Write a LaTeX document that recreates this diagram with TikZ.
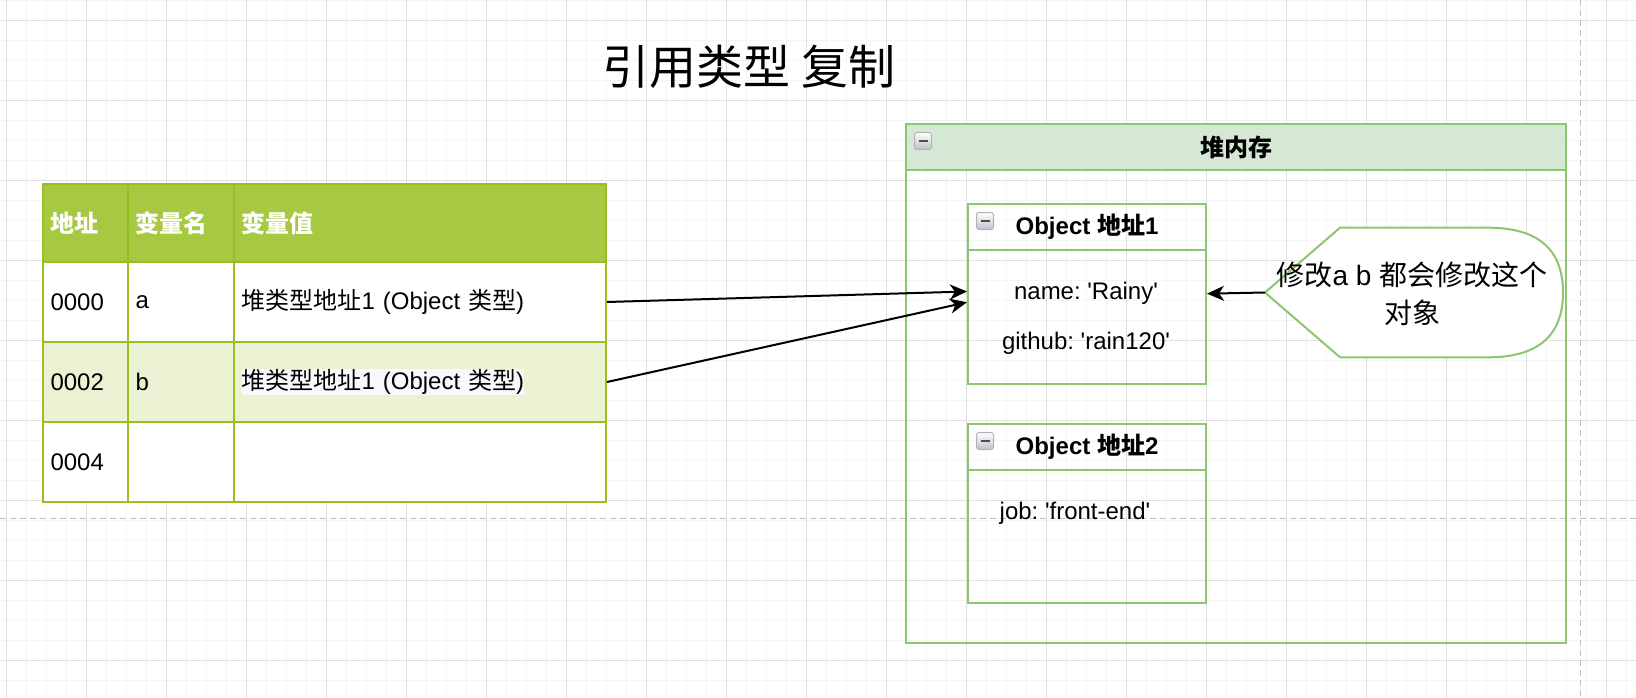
\documentclass[tikz,border=0pt]{standalone}
\usepackage{fontspec}
\setmainfont{Liberation Sans}
\newfontfamily\cjk{Noto Sans CJK SC}
\usetikzlibrary{arrows.meta}
\frenchspacing

\definecolor{gridmajor}{RGB}{224,224,224}
\definecolor{gridminor}{RGB}{245,245,245}
\definecolor{pagebreak}{RGB}{192,192,192}
\definecolor{tblhead}{RGB}{167,201,66}
\definecolor{tblline}{RGB}{152,191,33}
\definecolor{tblalt}{RGB}{234,242,211}
\definecolor{heapline}{RGB}{140,198,110}
\definecolor{heaphead}{RGB}{213,232,212}
\definecolor{hilite}{RGB}{248,249,250}
\newcommand{\sq}{\textquotesingle}

\tikzset{every picture/.style={line width=2pt}}
\tikzset{
  cell/.style={draw=tblline, fill=white, anchor=north west, minimum height=80pt,
    inner xsep=7.5pt, inner ysep=0pt, align=left, font=\fontsize{24}{28}\selectfont},
  headcell/.style={cell, fill=tblhead, text=white, minimum height=78pt,
    font=\fontsize{24}{28}\selectfont\bfseries},
  altcell/.style={cell, fill=tblalt},
  colA/.style={minimum width=85pt, text width=70pt},
  colB/.style={minimum width=106pt, text width=91pt},
  colC/.style={minimum width=372pt, text width=357pt},
  frame/.style={draw=heapline, anchor=north west, inner sep=0pt},
  framehd/.style={frame, minimum height=46pt, font=\fontsize{24}{28}\selectfont\bfseries},
  fold/.style={draw=gray!60, rounded corners=2.5pt, line width=1pt, top color=white,
    bottom color=blue!10!gray!45, minimum size=17pt, inner sep=0pt,
    path picture={\draw[line width=2.2pt, black!70]
      ([xshift=4pt]path picture bounding box.west) -- ([xshift=-4pt]path picture bounding box.east);}},
  field/.style={font=\fontsize{24}{28}\selectfont, inner sep=0pt},
  conn/.style={-{Stealth[length=17pt, width=15pt, inset=5pt]}, black},
}

\begin{document}
\begin{tikzpicture}[x=1pt,y=1pt,yscale=-1]
\useasboundingbox (0,0) rectangle (1636,698);

% grid
\foreach \x in {6.7,26.7,...,1636} \draw[gridminor, line width=1pt] (\x,0) -- (\x,698);
\foreach \y in {0.7,20.7,...,698} \draw[gridminor, line width=1pt] (0,\y) -- (1636,\y);
\foreach \x in {6.7,86.7,...,1636} \draw[gridmajor, line width=1pt] (\x,0) -- (\x,698);
\foreach \y in {20.7,100.7,...,698} \draw[gridmajor, line width=1pt] (0,\y) -- (1636,\y);

% page breaks
\draw[pagebreak, line width=1.2pt, dash pattern=on 6pt off 4pt] (0,518.7) -- (1636,518.7);
\draw[pagebreak, line width=1.2pt, dash pattern=on 6pt off 4pt] (1580.7,0) -- (1580.7,698);

% title
\node[inner sep=0pt, font=\fontsize{47}{50}\selectfont\cjk] (title) at (749,67) {引用类型 复制};

% stack table
\node[headcell, colA] (hAddr) at (42,183) {{\cjk 地址}};
\node[headcell, colB] (hName) at (127,183) {{\cjk 变量名}};
\node[headcell, colC] (hVal) at (233,183) {{\cjk 变量值}};

\node[cell, colA] (addrA) at (42,261) {0000};
\node[cell, colB] (nameA) at (127,261) {a};
\node[cell, colC] (valA) at (233,261) {{\cjk 堆类型地址}1 (Object {\cjk 类型})};

\node[altcell, colA] (addrB) at (42,341) {0002};
\node[altcell, colB] (nameB) at (127,341) {b};
\node[altcell, colC] (valB) at (233,341) {\setlength{\fboxsep}{0pt}\colorbox{hilite}{{\cjk 堆类型地址}1 (Object {\cjk 类型})}};

\node[cell, colA] (addrC) at (42,421) {0004};
\node[cell, colB] (nameC) at (127,421) {};
\node[cell, colC] (valC) at (233,421) {};

% heap
\node[frame, minimum width=660pt, minimum height=519pt] (heap) at (905,123) {};
\node[framehd, fill=heaphead, minimum width=660pt] (heaphd) at (905,123) {{\cjk 堆内存}};
\node[fold] (heapfold) at (923,141) {};

% object 1
\node[framehd, minimum width=238pt] (objAhd) at (967,203) {Object {\cjk 地址}1};
\node[frame, minimum width=238pt, minimum height=134pt] (objA) at (967,249) {};
\node[fold] (objAfold) at (985,221) {};
\node[field] (fname) at (1086,293) {name: \sq Rainy\sq};
\node[field] (fgit) at (1086,343) {github: \sq rain120\sq};

% object 2
\node[framehd, minimum width=238pt] (objBhd) at (967,423) {Object {\cjk 地址}2};
\node[frame, minimum width=238pt, minimum height=133pt] (objB) at (967,469) {};
\node[fold] (objBfold) at (985,441) {};
\node[field] (fjob) at (1075,513) {job: \sq front-end\sq};

% note
\draw[draw=heapline, fill=white] (1265,292.5) -- (1340,227.7) -- (1488,227.7)
  .. controls (1538,227.7) and (1563,249.3) .. (1563,292.5)
  .. controls (1563,335.7) and (1538,357.3) .. (1488,357.3)
  -- (1340,357.3) -- cycle;
\coordinate (tip) at (1265,292.5);
\node[align=center, inner sep=0pt, font=\fontsize{28}{38}\selectfont] (note) at (1412,294)
  {{\cjk 修改}a b {\cjk 都会修改这个}\\{\cjk 对象}};

% links
\draw[conn] (valA.east) -- (objA.168.9);
\draw[conn] (valB.east) -- (objA.173.4);
\draw[conn] (tip) -- (objA.11.3);
\end{tikzpicture}
\end{document}
